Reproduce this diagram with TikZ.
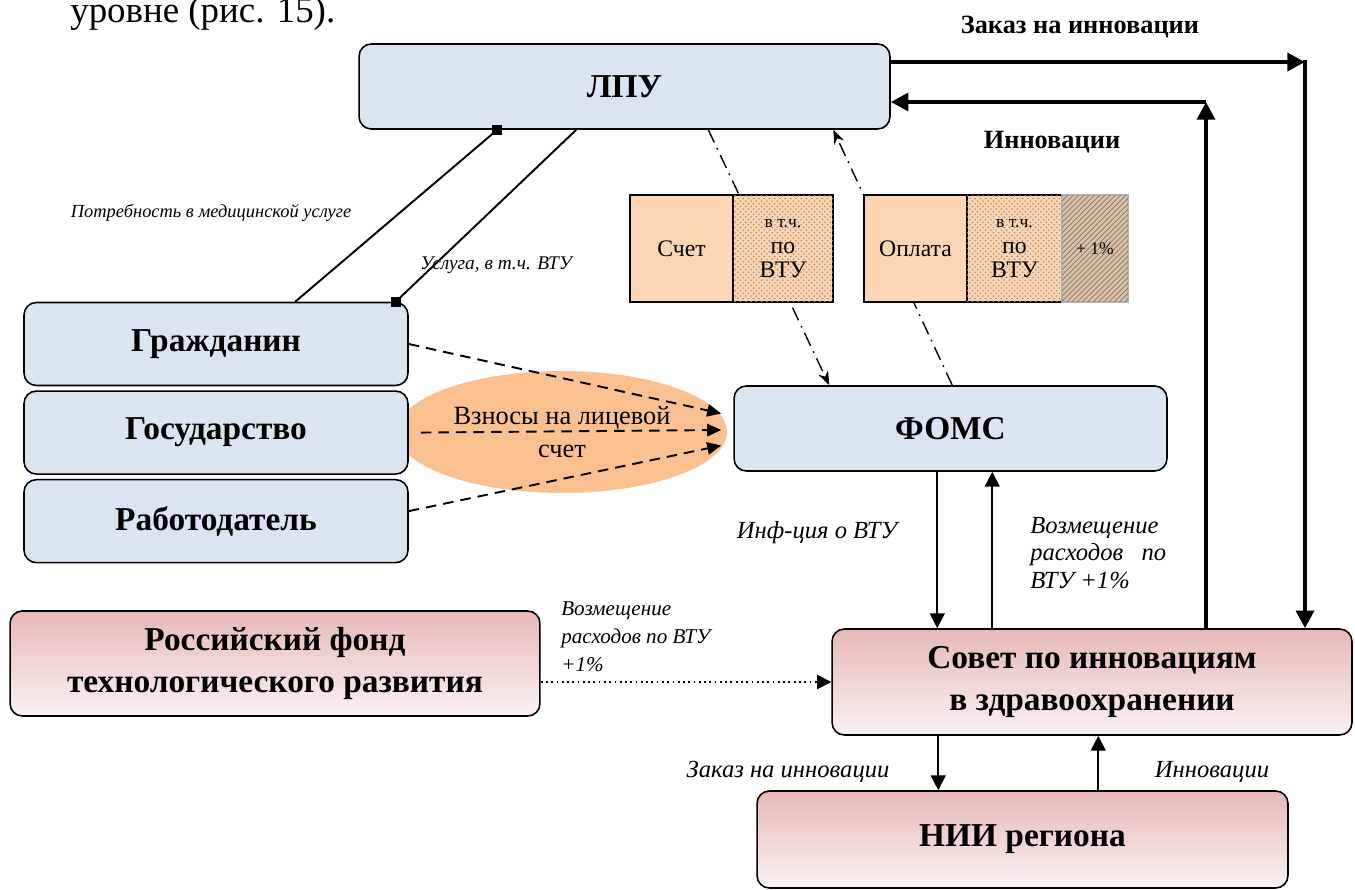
\documentclass[tikz,border=0pt]{standalone}
\usepackage{fontspec}
\setmainfont{Liberation Serif}
\usetikzlibrary{positioning,arrows.meta,shapes.geometric,patterns,calc}

\definecolor{boxblue}{HTML}{DBE5F1}
\definecolor{pinktop}{HTML}{E6B9B8}
\definecolor{pinkbot}{HTML}{FBF1F1}
\definecolor{ovalor}{HTML}{FAC090}
\definecolor{peach}{HTML}{FCD5B4}
\definecolor{dotbrown}{HTML}{B58A66}
\definecolor{hatchbase}{HTML}{D9C3AC}
\definecolor{hatchline}{HTML}{8E7155}

\begin{document}
\begin{tikzpicture}[
  x=0.02cm, y=-0.02cm,
  blbox/.style={
    draw, line width=0.9pt, rounded corners=7pt,
    fill=boxblue, inner sep=0pt,
    font=\fontsize{19}{22}\selectfont\bfseries, align=center
  },
  pkbox/.style={
    draw, line width=0.9pt, rounded corners=7pt,
    top color=pinktop, bottom color=pinkbot, inner sep=0pt,
    font=\fontsize{19}{24}\selectfont\bfseries, align=center
  },
  cell/.style={
    draw, line width=0.8pt, outer sep=0pt, inner sep=0pt,
    minimum height=2.14cm, % same height for all bill cells
    font=\fontsize{13.5}{13.5}\selectfont, align=center
  },
  lbl/.style={font=\fontsize{14}{16}\selectfont\itshape, align=left, inner sep=0pt},
  toplbl/.style={font=\fontsize{15}{18}\selectfont\bfseries, inner sep=0pt},
  flow/.style={line width=1.1pt, -{Triangle[length=8.5pt,width=8.5pt]}},
  fat/.style={line width=2.6pt, -{Triangle[length=10pt,width=10pt]}},
  dsh/.style={line width=1.1pt, dash pattern=on 6pt off 4pt, -{Triangle[length=8pt,width=7pt]}},
  dd/.style={line width=0.8pt, dash pattern=on 8pt off 3.5pt on 1pt off 3.5pt, -{Stealth[length=8pt,width=6pt]}},
  sq/.style={line width=1.1pt}
]
\useasboundingbox (0,0) rectangle (1355,889);
\def\lgap{0.08cm} % gap between the payer boxes
\def\vtu{{\fontsize{10}{11}\selectfont в т.ч.}\\[1pt]по\\ВТУ}

\node[anchor=base west, font=\fontsize{21}{24}\selectfont, inner sep=0pt] (intro) at (70,22) {уровне (рис. 15).};

% --- Contributions oval ---
\node[ellipse, fill=ovalor, minimum width=6.6cm, minimum height=2.44cm, inner sep=0pt,
  align=center, font=\fontsize{15}{19}\selectfont] (vzn) at (562,432) {Взносы на лицевой\\счет};

% --- Payers ---
\foreach \t [count=\i] in {Гражданин,Государство,Работодатель} {
  \ifnum\i=1
    \node[blbox, minimum width=7.68cm, minimum height=1.66cm] (payer\i) at (216,344) {\t};
  \else
    \node[blbox, minimum width=7.68cm, minimum height=1.66cm,
      below=\lgap of payer\the\numexpr\i-1\relax] (payer\i) {\t};
  \fi
}

% --- Main boxes ---
\node[blbox, minimum width=10.62cm, minimum height=1.7cm] (lpu) at (624.5,86.5) {ЛПУ};
\node[blbox, minimum width=8.66cm, minimum height=1.7cm] (fom) at (950.5,428.5) {ФОМС};
\node[pkbox, minimum width=10.6cm, minimum height=2.1cm] (rf) at (275,663.5) {Российский фонд\\технологического развития};
\node[pkbox, minimum width=10.4cm, minimum height=2.12cm] (sov) at (1092,682) {Совет по инновациям\\в здравоохранении};
\node[pkbox, minimum width=10.62cm, minimum height=1.94cm] (nii) at (1022.5,839.5) {НИИ региона};

% --- Bills (lines run behind the cells) ---
\draw[dd] ($(lpu.south west)+(350,0)$) -- ($(fom.north west)+(96,0)$);
\draw[dd] ($(fom.north west)+(219,0)$) -- ($(lpu.south west)+(475,0)$);

\node[cell, minimum width=2.06cm, fill=peach, anchor=west] (schet) at (630,248.5) {Счет};
\node[cell, minimum width=2.0cm, fill=peach, postaction={pattern=crosshatch dots, pattern color=dotbrown},
  right=0pt of schet] (schetv) {\vtu};

\node[cell, minimum width=2.06cm, fill=peach, anchor=west] (opl) at (864,248.5) {Оплата};
\node[cell, minimum width=1.9cm, fill=peach, postaction={pattern=crosshatch dots, pattern color=dotbrown},
  right=0pt of opl] (oplv) {\vtu};
\node[cell, minimum width=1.32cm, draw=gray!60, fill=hatchbase,
  postaction={pattern=north east lines, pattern color=hatchline},
  font=\fontsize{10}{12}\selectfont, right=0pt of oplv] (oplp) {+ 1\%};

% --- Citizen and LPU ---
\coordinate (sqa) at ($(lpu.south west)+(139,0)$);
\coordinate (sqb) at ($(payer1.north east)+(-13,0)$);
\draw[sq] ($(payer1.north west)+(272,0)$) -- (sqa);
\draw[sq] ($(lpu.south west)+(218,0)$) -- (sqb);
\fill (sqa) +(-2.8pt,-2.8pt) rectangle +(2.8pt,2.8pt);
\fill (sqb) +(-2.8pt,-2.8pt) rectangle +(2.8pt,2.8pt);
\node[font=\fontsize{10.5}{12}\selectfont\itshape, inner sep=0pt] (potr) at (211,213) {Потребность в медицинской услуге};
\node[font=\fontsize{11}{13}\selectfont\itshape, inner sep=0pt] (usl) at (496,265) {Услуга, в т.ч. ВТУ};

% --- Contributions ---
\draw[dsh] (payer1.east) -- ($(fom.west)+(-12,-15)$);
\draw[dsh] ($(payer2.east)+(12,0)$) -- ($(fom.west)+(-12,1.5)$);
\draw[dsh] ($(payer3.east)+(0,-10)$) -- ($(fom.west)+(-12,17)$);

% --- Innovation loop with LPU ---
\coordinate (zk) at (1305,62);
\coordinate (inn) at (1206,102);
\draw[fat] (lpu.east |- zk) -- (zk);
\draw[fat] ([yshift=1.3pt]zk) -- (sov.north -| zk);
\draw[fat] (sov.north -| inn) -- (inn);
\draw[fat] (inn) -- (lpu.east |- inn);
\node[toplbl] (zklbl) at (1080,27) {Заказ на инновации};
\node[toplbl] (innlbl) at (1052,142) {Инновации};

% --- FOMS and council ---
\coordinate (f1) at ($(fom.south west)+(204,0)$);
\coordinate (f2) at ($(fom.south west)+(259,0)$);
\draw[flow] (f1) -- (f1 |- sov.north);
\draw[flow] (f2 |- sov.north) -- (f2);
\node[lbl] (infvtu) at (817,533) {Инф-ция о ВТУ};
\node[lbl, anchor=north west, font=\fontsize{14}{15.6}\selectfont\itshape] (vozm1) at (1030,517)
  {Возмещение\\расходов\ \ \ по\\ВТУ +1\%};

% --- Fund ---
\draw[line width=1pt, dotted, -{Triangle[length=8pt,width=8pt]}] (rf.east |- sov.west) -- (sov.west);
\node[lbl, anchor=north west, font=\fontsize{12}{16}\selectfont\itshape] (vozm2) at (561,601)
  {Возмещение\\расходов по ВТУ\\+1\%};

% --- Council and institute ---
\coordinate (s1) at ($(sov.south west)+(107,0)$);
\coordinate (s2) at ($(sov.south west)+(267,0)$);
\draw[flow] (s1) -- (s1 |- nii.north);
\draw[flow] (s2 |- nii.north) -- (s2);
\node[lbl] (zknii) at (788,772) {Заказ на инновации};
\node[lbl] (innnii) at (1212,772) {Инновации};

\end{tikzpicture}
\end{document}
